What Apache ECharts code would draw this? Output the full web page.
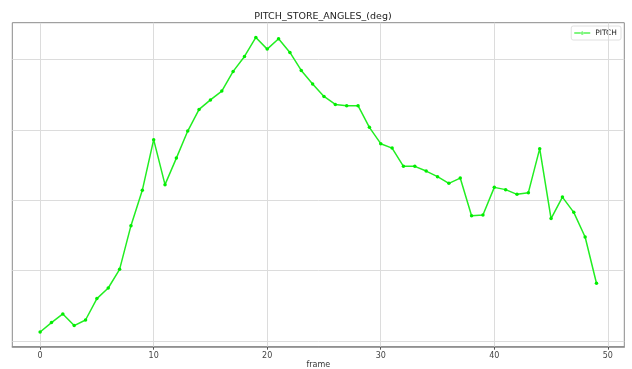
<!DOCTYPE html>
<html>
<head>
<meta charset="utf-8">
<script src="https://cdn.jsdelivr.net/npm/echarts@6/dist/echarts.min.js"></script>
<style>html,body{margin:0;padding:0;background:#fff;}#c{width:632px;height:369px;}</style>
</head>
<body>
<div id="c"></div>
<script>
const frames = [];
for (let i = 0; i < 50; i++) frames.push(i);
const pitch = [1.28, 2.61, 3.84, 2.19, 2.98, 6.02, 7.53, 10.18, 16.39, 21.41,
  28.61, 22.22, 25.99, 29.83, 32.91, 34.26, 35.51, 38.31, 40.44, 43.14,
  41.48, 42.95, 41.01, 38.45, 36.51, 34.76, 33.62, 33.44, 33.44, 30.36,
  28.04, 27.41, 24.82, 24.82, 24.15, 23.35, 22.40, 23.15, 17.81, 17.90,
  21.83, 21.51, 20.84, 21.08, 27.33, 17.39, 20.45, 18.28, 14.77, 8.20];
const xTicks = [0, 10, 20, 30, 40, 50];
const yTicks = [0, 10, 20, 30, 40];
const titleText = 'PITCH_STORE_ANGLES_(deg)';
const seriesName = 'PITCH';
const xName = 'frame';

const xMin = -2.45, xMax = 51.45;
const yRange = Math.max(...pitch) - Math.min(...pitch);
const yMin = Math.min(...pitch) - 0.05 * yRange;
const yMax = Math.max(...pitch) + 0.05 * yRange;

const gridColor = '#dcdcdc';
const markData = xTicks.map(v => ({xAxis: v})).concat(yTicks.map(v => ({yAxis: v})));

const chart = echarts.init(document.getElementById('c'));
chart.setOption({
  animation: false,
  textStyle: {fontFamily: 'DejaVu Sans'},
  title: {
    text: titleText, left: 318, top: 7, textAlign: 'center',
    textStyle: {fontSize: 9.5, fontWeight: 'normal', color: '#222', fontFamily: 'DejaVu Sans'}
  },
  legend: {
    right: 11, top: 26, orient: 'vertical',
    itemWidth: 16, itemHeight: 8, itemGap: 4,
    padding: [3, 4, 3, 3],
    borderColor: '#e0e0e0', borderWidth: 1, borderRadius: 2,
    backgroundColor: '#fff',
    textStyle: {fontSize: 7.5, color: '#222', fontFamily: 'DejaVu Sans'},
    data: [{name: seriesName, icon: 'path://M0,3.5L16,3.5L16,4.5L0,4.5Z M6.5,4a1.5,1.5 0 1,0 3,0a1.5,1.5 0 1,0 -3,0Z'}]
  },
  grid: {left: 12.3, right: 7.7, top: 22.7, bottom: 22.3, show: true, borderColor: '#8a8a8a', borderWidth: 1,
    containLabel: false, outerBoundsMode: 'none'},
  xAxis: {
    type: 'value', min: xMin, max: xMax,
    name: xName, nameLocation: 'middle', nameGap: 14.5, nameMoveOverlap: false,
    nameTextStyle: {fontSize: 8, color: '#333', verticalAlign: 'top'},
    axisLine: {show: true, onZero: false, lineStyle: {color: '#8a8a8a', width: 1.5}},
    axisTick: {show: true, customValues: xTicks, length: 3, lineStyle: {color: '#555'}},
    axisLabel: {show: true, customValues: xTicks, fontSize: 8, color: '#444', margin: 5},
    splitLine: {show: false}
  },
  yAxis: {
    type: 'value', min: yMin, max: yMax,
    axisLine: {show: true, lineStyle: {color: '#8a8a8a', width: 1}},
    axisTick: {show: true, customValues: yTicks, length: 3, lineStyle: {color: '#555'}},
    axisLabel: {show: false},
    splitLine: {show: false}
  },
  series: [{
    name: seriesName, type: 'line',
    data: frames.map((f, i) => [f, pitch[i]]),
    color: '#00ff00',
    lineStyle: {color: '#22ee22', width: 1.5},
    symbol: 'circle', symbolSize: 3.5,
    itemStyle: {color: '#00ee00'},
    z: 5,
    markLine: {
      silent: true, symbol: 'none', animation: false,
      label: {show: false},
      lineStyle: {color: gridColor, type: 'solid', width: 1},
      data: markData
    }
  }]
});
</script>
</body>
</html>
